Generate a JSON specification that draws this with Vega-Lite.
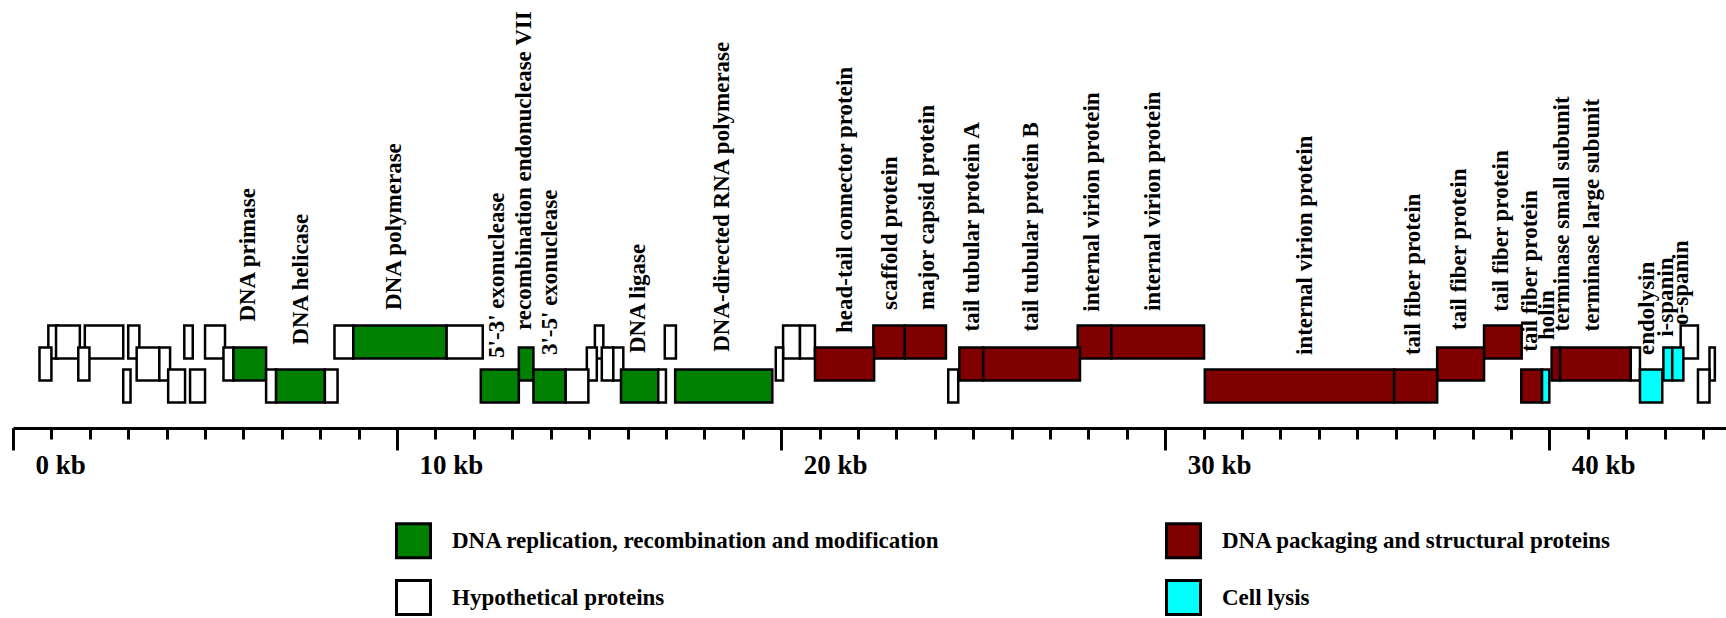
{
  "$schema": "https://vega.github.io/schema/vega-lite/v6.json",
  "autosize": {"type": "none"},
  "padding": {"left": 13, "top": 320, "right": 0, "bottom": 210},
  "width": 1713,
  "height": 88,
  "background": "white",
  "config": {"view": {"stroke": null}},
  "datasets": {
    "genes": [
      {"start": 0.92, "end": 1.17, "frame": 1, "category": "Hypothetical proteins"},
      {"start": 1.12, "end": 1.74, "frame": 1, "category": "Hypothetical proteins"},
      {"start": 1.87, "end": 2.87, "frame": 1, "category": "Hypothetical proteins"},
      {"start": 3.0, "end": 3.29, "frame": 1, "category": "Hypothetical proteins"},
      {"start": 4.46, "end": 4.68, "frame": 1, "category": "Hypothetical proteins"},
      {"start": 5.0, "end": 5.52, "frame": 1, "category": "Hypothetical proteins"},
      {"start": 8.37, "end": 8.86, "frame": 1, "category": "Hypothetical proteins"},
      {"start": 8.86, "end": 11.29, "frame": 1, "category": "DNA replication, recombination and modification"},
      {"start": 11.29, "end": 12.23, "frame": 1, "category": "Hypothetical proteins"},
      {"start": 15.15, "end": 15.37, "frame": 1, "category": "Hypothetical proteins"},
      {"start": 16.97, "end": 17.26, "frame": 1, "category": "Hypothetical proteins"},
      {"start": 20.05, "end": 20.49, "frame": 1, "category": "Hypothetical proteins"},
      {"start": 20.49, "end": 20.88, "frame": 1, "category": "Hypothetical proteins"},
      {"start": 22.40, "end": 23.22, "frame": 1, "category": "DNA packaging and structural proteins"},
      {"start": 23.22, "end": 24.29, "frame": 1, "category": "DNA packaging and structural proteins"},
      {"start": 27.72, "end": 28.60, "frame": 1, "category": "DNA packaging and structural proteins"},
      {"start": 28.60, "end": 31.01, "frame": 1, "category": "DNA packaging and structural proteins"},
      {"start": 38.30, "end": 39.28, "frame": 1, "category": "DNA packaging and structural proteins"},
      {"start": 43.42, "end": 43.87, "frame": 1, "category": "Hypothetical proteins"},
      {"start": 0.69, "end": 1.00, "frame": 2, "category": "Hypothetical proteins"},
      {"start": 1.70, "end": 1.99, "frame": 2, "category": "Hypothetical proteins"},
      {"start": 3.22, "end": 3.81, "frame": 2, "category": "Hypothetical proteins"},
      {"start": 3.81, "end": 4.09, "frame": 2, "category": "Hypothetical proteins"},
      {"start": 5.48, "end": 5.74, "frame": 2, "category": "Hypothetical proteins"},
      {"start": 5.74, "end": 6.59, "frame": 2, "category": "DNA replication, recombination and modification"},
      {"start": 13.17, "end": 13.55, "frame": 2, "category": "DNA replication, recombination and modification"},
      {"start": 14.94, "end": 15.20, "frame": 2, "category": "Hypothetical proteins"},
      {"start": 15.33, "end": 15.63, "frame": 2, "category": "Hypothetical proteins"},
      {"start": 15.63, "end": 15.89, "frame": 2, "category": "Hypothetical proteins"},
      {"start": 19.86, "end": 20.05, "frame": 2, "category": "Hypothetical proteins"},
      {"start": 20.88, "end": 22.42, "frame": 2, "category": "DNA packaging and structural proteins"},
      {"start": 24.64, "end": 25.26, "frame": 2, "category": "DNA packaging and structural proteins"},
      {"start": 25.26, "end": 27.78, "frame": 2, "category": "DNA packaging and structural proteins"},
      {"start": 37.08, "end": 38.30, "frame": 2, "category": "DNA packaging and structural proteins"},
      {"start": 40.06, "end": 40.28, "frame": 2, "category": "DNA packaging and structural proteins"},
      {"start": 40.28, "end": 42.12, "frame": 2, "category": "DNA packaging and structural proteins"},
      {"start": 42.12, "end": 42.36, "frame": 2, "category": "Hypothetical proteins"},
      {"start": 42.97, "end": 43.20, "frame": 2, "category": "Cell lysis"},
      {"start": 43.20, "end": 43.49, "frame": 2, "category": "Cell lysis"},
      {"start": 44.17, "end": 44.31, "frame": 2, "category": "Hypothetical proteins"},
      {"start": 2.87, "end": 3.06, "frame": 3, "category": "Hypothetical proteins"},
      {"start": 4.04, "end": 4.48, "frame": 3, "category": "Hypothetical proteins"},
      {"start": 4.61, "end": 5.00, "frame": 3, "category": "Hypothetical proteins"},
      {"start": 6.59, "end": 6.85, "frame": 3, "category": "Hypothetical proteins"},
      {"start": 6.85, "end": 8.12, "frame": 3, "category": "DNA replication, recombination and modification"},
      {"start": 8.12, "end": 8.45, "frame": 3, "category": "Hypothetical proteins"},
      {"start": 12.18, "end": 13.17, "frame": 3, "category": "DNA replication, recombination and modification"},
      {"start": 13.55, "end": 14.39, "frame": 3, "category": "DNA replication, recombination and modification"},
      {"start": 14.39, "end": 14.98, "frame": 3, "category": "Hypothetical proteins"},
      {"start": 15.83, "end": 16.80, "frame": 3, "category": "DNA replication, recombination and modification"},
      {"start": 16.80, "end": 17.00, "frame": 3, "category": "Hypothetical proteins"},
      {"start": 17.24, "end": 19.77, "frame": 3, "category": "DNA replication, recombination and modification"},
      {"start": 24.35, "end": 24.61, "frame": 3, "category": "Hypothetical proteins"},
      {"start": 31.03, "end": 35.96, "frame": 3, "category": "DNA packaging and structural proteins"},
      {"start": 35.96, "end": 37.08, "frame": 3, "category": "DNA packaging and structural proteins"},
      {"start": 39.27, "end": 39.81, "frame": 3, "category": "DNA packaging and structural proteins"},
      {"start": 39.81, "end": 40.00, "frame": 3, "category": "Cell lysis"},
      {"start": 42.36, "end": 42.94, "frame": 3, "category": "Cell lysis"},
      {"start": 43.87, "end": 44.17, "frame": 3, "category": "Hypothetical proteins"}
    ],
    "labels": [
      {"label": "DNA primase", "pos": 6.11, "level": 1.55},
      {"label": "DNA helicase", "pos": 7.51, "level": 2.6},
      {"label": "DNA polymerase", "pos": 9.92, "level": 1.02},
      {"label": "5'-3' exonuclease", "pos": 12.59, "level": 3.2},
      {"label": "recombination endonuclease VII", "pos": 13.31, "level": 1.93},
      {"label": "3'-5' exonuclease", "pos": 13.98, "level": 3.07},
      {"label": "DNA ligase", "pos": 16.28, "level": 2.98},
      {"label": "DNA-directed RNA polymerase", "pos": 18.47, "level": 2.92},
      {"label": "head-tail connector protein", "pos": 21.67, "level": 2.07},
      {"label": "scaffold protein", "pos": 22.83, "level": 1.02},
      {"label": "major capsid protein", "pos": 23.79, "level": 1.02},
      {"label": "tail tubular protein A", "pos": 24.97, "level": 2.0},
      {"label": "tail tubular protein B", "pos": 26.51, "level": 2.0},
      {"label": "internal virion protein", "pos": 28.1, "level": 1.1},
      {"label": "internal virion protein", "pos": 29.69, "level": 1.07},
      {"label": "internal virion protein", "pos": 33.65, "level": 3.07},
      {"label": "tail fiber protein", "pos": 36.46, "level": 3.07},
      {"label": "tail fiber protein", "pos": 37.66, "level": 1.93},
      {"label": "tail fiber protein", "pos": 38.75, "level": 1.1},
      {"label": "tail fiber protein", "pos": 39.5, "level": 2.92},
      {"label": "holin", "pos": 39.95, "level": 2.39},
      {"label": "terminase small subunit", "pos": 40.32, "level": 2.0},
      {"label": "terminase large subunit", "pos": 41.12, "level": 2.0},
      {"label": "endolysin", "pos": 42.55, "level": 3.07},
      {"label": "i-spanin", "pos": 43.05, "level": 2.24},
      {"label": "o-spanin", "pos": 43.44, "level": 1.7}
    ]
  },
  "layer": [
    {
      "data": {"name": "genes"},
      "mark": {"type": "rect", "height": 33, "stroke": "black", "strokeWidth": 2.5, "opacity": 1},
      "encoding": {
        "x": {
          "field": "start", "type": "quantitative",
          "scale": {"domain": [0, 44.6], "nice": false, "zero": false},
          "axis": {
            "orient": "bottom", "offset": 20,
            "values": [0,1,2,3,4,5,6,7,8,9,10,11,12,13,14,15,16,17,18,19,20,21,22,23,24,25,26,27,28,29,30,31,32,33,34,35,36,37,38,39,40,41,42,43,44],
            "tickSize": 11, "tickWidth": 3, "tickColor": "black",
            "domainWidth": 3, "domainColor": "black",
            "labels": false, "grid": false, "title": null
          }
        },
        "x2": {"field": "end"},
        "y": {"field": "frame", "type": "ordinal", "scale": {"type": "point", "padding": 1}, "axis": null},
        "fill": {
          "field": "category", "type": "nominal",
          "scale": {
            "domain": ["DNA replication, recombination and modification", "Hypothetical proteins", "DNA packaging and structural proteins", "Cell lysis"],
            "range": ["#008000", "#ffffff", "#800000", "#00ffff"]
          },
          "legend": {
            "orient": "none", "legendX": 382, "legendY": 202, "columns": 2, "title": null,
            "symbolType": "square", "symbolSize": 1156, "symbolStrokeColor": "black", "symbolStrokeWidth": 3, "symbolOpacity": 1,
            "labelFont": "Liberation Serif", "labelFontWeight": "bold", "labelFontSize": 23, "labelColor": "black",
            "labelOffset": 20, "labelLimit": 1000,
            "columnPadding": 220, "rowPadding": 10, "padding": 0
          }
        }
      }
    },
    {
      "data": {"name": "labels"},
      "mark": {"type": "text", "angle": 270, "align": "left", "baseline": "middle", "dx": 32.5, "font": "Liberation Serif", "fontWeight": "bold", "fontSize": 23, "color": "black"},
      "encoding": {
        "x": {
          "field": "pos", "type": "quantitative",
          "axis": {
            "orient": "bottom", "offset": 20, "values": [0, 10, 20, 30, 40],
            "tickSize": 22, "tickWidth": 3, "tickColor": "black", "domain": false,
            "labelExpr": "datum.value + ' kb'",
            "labelFont": "Liberation Serif", "labelFontWeight": "bold", "labelFontSize": 27, "labelColor": "black",
            "labelAlign": "left", "labelBaseline": "alphabetic", "labelOffset": 22, "labelPadding": 23,
            "labelFlush": false, "labelOverlap": false, "grid": false, "title": null
          }
        },
        "y": {"field": "level", "type": "quantitative", "scale": {"domain": [0, 4], "reverse": true, "nice": false, "zero": false}, "axis": null},
        "text": {"field": "label"}
      }
    }
  ],
  "resolve": {"axis": {"x": "independent"}, "scale": {"y": "independent"}}
}
